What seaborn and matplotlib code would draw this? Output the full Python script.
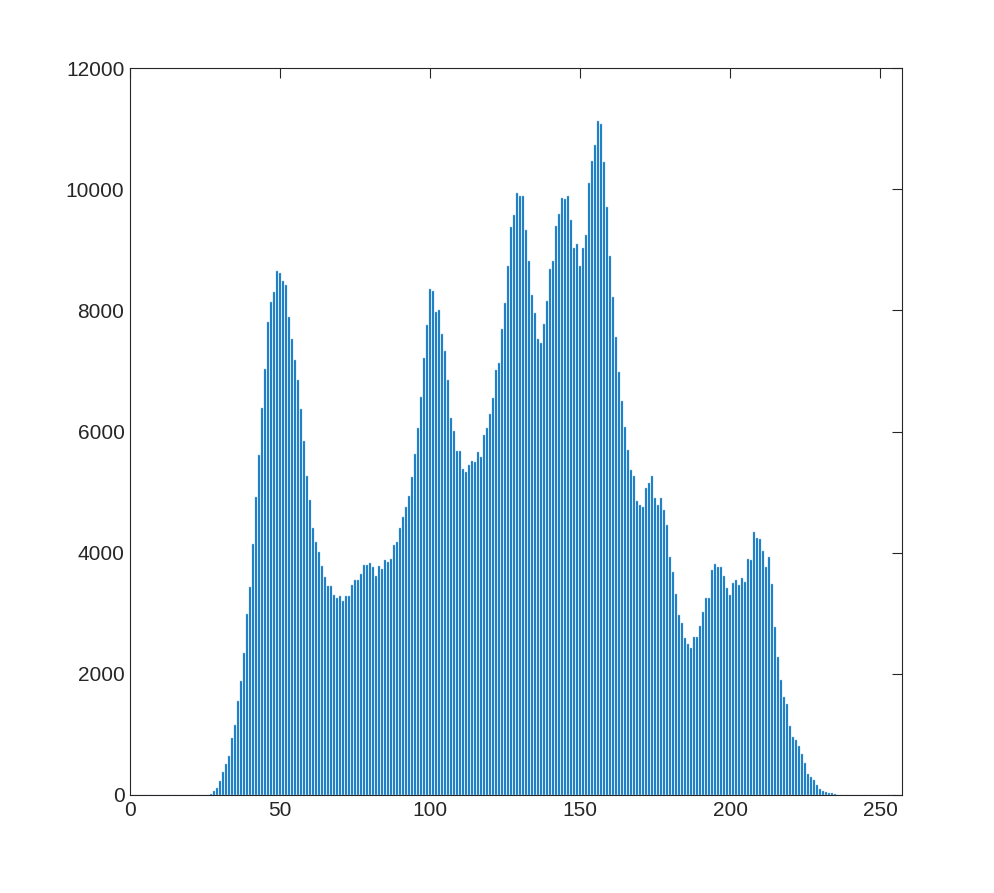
import matplotlib
matplotlib.use('Agg')
import numpy as np
import pandas as pd
import matplotlib.pyplot as plt
import seaborn as sns

# Histogram counts, grey levels 27..235 (all others are 0)
first_level = 27
counts = [
    23, 63, 108, 223, 383, 514, 651, 936, 1153, 1553,            # 27-36
    1884, 2352, 2992, 3437, 4145, 4921, 5606, 6394, 7033, 7800,  # 37-46
    8140, 8310, 8657, 8608, 8481, 8415, 7882, 7519, 7183, 6848,  # 47-56
    6369, 5846, 5264, 4868, 4411, 4175, 4010, 3779, 3597, 3448,  # 57-66
    3448, 3295, 3250, 3284, 3201, 3284, 3278, 3465, 3547, 3547,  # 67-76
    3646, 3790, 3790, 3822, 3762, 3608, 3773, 3729, 3883, 3845,  # 77-86
    3888, 4130, 4175, 4406, 4593, 4747, 4934, 5247, 5621, 6066,  # 87-96
    6572, 7205, 7755, 8360, 8321, 7975, 8003, 7607, 7332, 6842,  # 97-106
    6220, 6006, 5671, 5671, 5384, 5330, 5450, 5505, 5494, 5665,  # 107-116
    5577, 5940, 6066, 6286, 6545, 7007, 7128, 7689, 8129, 8728,  # 117-126
    9372, 9570, 9933, 9889, 9889, 9328, 8822, 8261, 7964, 7519,  # 127-136
    7458, 7777, 8162, 8679, 8811, 9388, 9592, 9850, 9834, 9894,  # 137-146
    9498, 9036, 9091, 8740, 9036, 9251, 10103, 10461, 10730, 11121,  # 147-156
    11077, 10456, 9702, 8894, 8222, 7552, 6980, 6496, 6070, 5687,  # 157-166
    5368, 5264, 4848, 4783, 4760, 5062, 5148, 5264, 4900, 4783,  # 167-176
    4900, 4702, 4453, 3932, 3678, 3325, 2977, 2838, 2590, 2491,  # 177-186
    2427, 2615, 2612, 2794, 3020, 3245, 3250, 3713, 3817, 3762,  # 187-196
    3757, 3619, 3421, 3305, 3498, 3542, 3465, 3575, 3514, 3894,  # 197-206
    3883, 4340, 4235, 4224, 4026, 3757, 3922, 3476, 2777, 2272,  # 207-216
    1898, 1617, 1496, 1139, 957, 902, 814, 677, 523, 341,        # 217-226
    292, 248, 165, 94, 72, 44, 39, 28, 22,                       # 227-235
]

x_ticks = [0, 50, 100, 150, 200, 250]
y_ticks = [0, 2000, 4000, 6000, 8000, 10000, 12000]

if __name__ == "__main__":

    levels = np.arange(256)
    full = np.zeros(256)
    full[first_level:first_level + len(counts)] = counts
    df = pd.DataFrame({'level': levels, 'count': full})

    sns.set_style('white')
    plt.rcParams['font.family'] = ['Liberation Sans', 'DejaVu Sans']

    fig = plt.figure(figsize=(9.95, 8.93), dpi=100)
    ax = fig.add_axes([130 / 995, (893 - 795) / 893, 772 / 995, 727 / 893])

    # bars with a faint light edge, like the original
    sns.histplot(data=df, x='level', weights='count', discrete=True,
                 shrink=0.85, color='#0072BD', edgecolor='#9cc3e4',
                 linewidth=0.3, alpha=1, ax=ax)

    ax.set_xlim(0, 257.33)
    ax.set_ylim(0, 12000)
    ax.set_xticks(x_ticks)
    ax.set_yticks(y_ticks)
    ax.set_xlabel('')
    ax.set_ylabel('')

    dark = '#262626'
    for s in ax.spines.values():
        s.set_visible(True)
        s.set_color(dark)
        s.set_linewidth(0.8)
    ax.tick_params(direction='in', length=7, width=0.8, colors=dark,
                   labelsize=15, top=True, right=True, pad=4)

    fig.savefig('out.png', dpi=100)
